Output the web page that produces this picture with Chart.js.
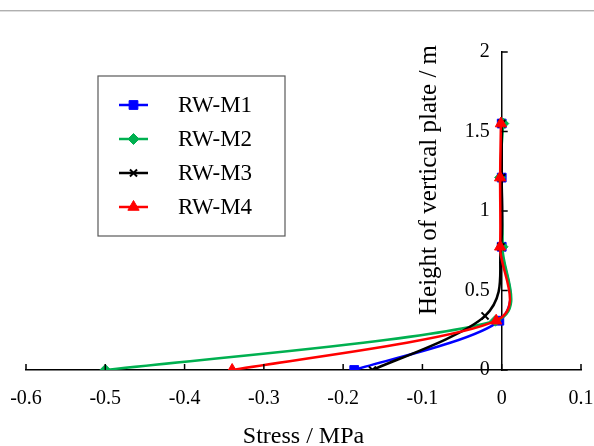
<!DOCTYPE html>
<html>
<head>
<meta charset="utf-8">
<script src="https://cdn.jsdelivr.net/npm/chart.js@4.4.1/dist/chart.umd.min.js"></script>
<style>
  html, body { margin: 0; padding: 0; background: #fff; }
  #wrap { position: relative; width: 594px; height: 446px; }
  #topline { position: absolute; left: 0; top: 10px; width: 594px; height: 1px; background: #b0b0b0; border-bottom: 1px solid #dedede; }
</style>
</head>
<body>
<div id="wrap">
  <div id="topline"></div>
  <canvas id="chart1"></canvas>
</div>
<script>
// heights of the measuring points along the plate (m)
var heights   = [0, 0.31, 0.775, 1.21, 1.55];
var heightsM3 = [0, 0.34, 0.775, 1.21, 1.55];

// stress at each point (MPa)
var stressM1 = [-0.186, -0.003,  0.000,  0.000,  0.000];
var stressM2 = [-0.500, -0.008,  0.001, -0.002,  0.002];
var stressM3 = [-0.163, -0.021, -0.001,  0.000,  0.000];
var stressM4 = [-0.340, -0.007, -0.002, -0.002, -0.001];

var seriesNames = ['RW-M1', 'RW-M2', 'RW-M3', 'RW-M4'];
var xTitle = 'Stress / MPa';
var yTitle = 'Height of vertical plate / m';

var serif = "'Liberation Serif', 'Times New Roman', serif";

function toPoints(xs, ys) {
    return xs.map(function(v, i) { return {x: v, y: ys[i]}; });
}

// Excel-like smoothing: Chart.js distance weighting, but no control
// point reaches further than 1/6 of the neighbour chord
var excelSmoothPlugin = {
    id: 'excelSmooth',
    beforeDatasetDraw: function(chart, args) {
        var meta = args.meta;
        var line = meta.dataset;
        if (!line) return;
        line.updateControlPoints(chart.chartArea, meta.iScale.axis);
        var t = line.options.tension;
        var pts = meta.data;
        var n = pts.length;
        for (var i = 0; i < n; i++) {
            var cur = pts[i];
            var prev = pts[Math.max(i - 1, 0)];
            var next = pts[Math.min(i + 1, n - 1)];
            var d01 = Math.hypot(cur.x - prev.x, cur.y - prev.y);
            var d12 = Math.hypot(next.x - cur.x, next.y - cur.y);
            var s = (d01 + d12) || 1;
            var fa = Math.min(t * d01 / s, 1 / 6);
            var fb = Math.min(t * d12 / s, 1 / 6);
            var dx = next.x - prev.x;
            var dy = next.y - prev.y;
            cur.cp1x = cur.x - fa * dx;
            cur.cp1y = cur.y - fa * dy;
            cur.cp2x = cur.x + fb * dx;
            cur.cp2y = cur.y + fb * dy;
        }
    }
};

// y axis labels + title and the inward tick marks (Excel style)
var axisExtrasPlugin = {
    id: 'axisExtras',
    afterDraw: function(chart, args, opts) {
        var ctx = chart.ctx;
        var xs = chart.scales.x, ys = chart.scales.y;
        var x0 = xs.getPixelForValue(0);
        var yb = ys.getPixelForValue(0);
        ctx.save();
        ctx.strokeStyle = '#000';
        ctx.lineWidth = 1.5;
        ctx.beginPath();
        xs.ticks.forEach(function(t) {
            var px = xs.getPixelForValue(t.value);
            ctx.moveTo(px, yb);
            ctx.lineTo(px, yb - opts.tickLength);
        });
        ys.ticks.forEach(function(t) {
            var py = ys.getPixelForValue(t.value);
            ctx.moveTo(x0, py);
            ctx.lineTo(x0 + opts.tickLength, py);
        });
        ctx.stroke();

        ctx.fillStyle = '#000';
        ctx.font = '20px ' + serif;
        ctx.textAlign = 'right';
        ctx.textBaseline = 'middle';
        ys.ticks.forEach(function(t) {
            ctx.fillText(String(t.value), x0 - opts.labelGap, ys.getPixelForValue(t.value));
        });

        ctx.font = '25px ' + serif;
        ctx.textAlign = 'center';
        ctx.translate(x0 - opts.titleGap, (chart.chartArea.top + chart.chartArea.bottom) / 2 - opts.titleShift);
        ctx.rotate(-Math.PI / 2);
        ctx.fillText(yTitle, 0, 0);
        ctx.restore();
    }
};

// framed legend inside the plot, like the excel one
var legendBoxPlugin = {
    id: 'legendBox',
    afterDraw: function(chart, args, o) {
        var ctx = chart.ctx;
        ctx.save();
        ctx.strokeStyle = '#595959';
        ctx.lineWidth = 1.2;
        ctx.strokeRect(o.left, o.top, o.width, o.height);
        chart.data.datasets.forEach(function(ds, i) {
            var y = o.top + o.firstRow + i * o.rowGap;
            var x1 = o.left + o.lineStart;
            ctx.strokeStyle = ds.borderColor;
            ctx.lineWidth = ds.borderWidth;
            ctx.beginPath();
            ctx.moveTo(x1, y);
            ctx.lineTo(x1 + o.lineLength, y);
            ctx.stroke();
            ctx.fillStyle = ds.pointBackgroundColor;
            ctx.strokeStyle = ds.pointBorderColor;
            ctx.lineWidth = ds.pointBorderWidth;
            Chart.helpers.drawPoint(ctx, {
                pointStyle: ds.pointStyle,
                radius: ds.pointRadius,
                borderWidth: ds.pointBorderWidth,
                rotation: 0
            }, x1 + o.lineLength / 2, y);
            ctx.fillStyle = '#000';
            ctx.font = '23px ' + serif;
            ctx.textAlign = 'left';
            ctx.textBaseline = 'middle';
            ctx.fillText(ds.label, o.left + o.textX, y + 1);
        });
        ctx.restore();
    }
};

var styles = [
    {c: '#0000FF', p: 'rect',     r: 6.2, bw: 1, order: 4},
    {c: '#00B050', p: 'rectRot',  r: 5.5, bw: 1, order: 3},
    {c: '#000000', p: 'crossRot', r: 5,   bw: 2, order: 2},
    {c: '#FF0000', p: 'triangle', r: 6.5, bw: 1, order: 1}
];
var seriesData = [
    toPoints(stressM1, heights),
    toPoints(stressM2, heights),
    toPoints(stressM3, heightsM3),
    toPoints(stressM4, heights)
];

var datasets = seriesData.map(function(d, i) {
    var s = styles[i];
    return {
        label: seriesNames[i],
        data: d,
        borderColor: s.c,
        backgroundColor: s.c,
        borderWidth: 2.5,
        pointStyle: s.p,
        pointRadius: s.r,
        pointBackgroundColor: s.c,
        pointBorderColor: s.c,
        pointBorderWidth: s.bw,
        tension: 0.5,
        fill: false,
        order: s.order
    };
});

Chart.defaults.font.family = serif;
Chart.defaults.color = '#000';

var ctx = document.getElementById('chart1').getContext('2d');
var chart = new Chart(ctx, {
    type: 'line',
    data: {datasets: datasets},
    options: {
        responsive: true,
        maintainAspectRatio: false,
        animation: false,
        layout: {
            padding: {left: 26, right: 13, top: 52, bottom: 0}
        },
        scales: {
            x: {
                type: 'linear',
                position: 'bottom',
                min: -0.6,
                max: 0.1,
                afterFit: function(scale) {
                    scale.height = 76;
                    scale.paddingLeft = 0;
                    scale.paddingRight = 0;
                },
                ticks: {
                    stepSize: 0.1,
                    autoSkip: false,
                    maxRotation: 0,
                    padding: 17,
                    font: {size: 20, family: serif},
                    color: '#000'
                },
                grid: {drawOnChartArea: false, drawTicks: false},
                border: {display: true, color: '#000', width: 1.5},
                title: {
                    display: true,
                    text: xTitle,
                    font: {size: 24, family: serif, lineHeight: 1},
                    color: '#000',
                    padding: {top: 0, bottom: -3}
                }
            },
            y: {
                type: 'linear',
                position: {x: 0},
                min: 0,
                max: 2,
                ticks: {stepSize: 0.5, display: false},
                grid: {drawOnChartArea: false, drawTicks: false},
                border: {display: true, color: '#000', width: 1.5},
                title: {display: false}
            }
        },
        plugins: {
            legend: {display: false},
            tooltip: {enabled: false},
            axisExtras: {tickLength: 6, labelGap: 12, titleGap: 72, titleShift: 31},
            legendBox: {
                left: 98, top: 76, width: 187, height: 160,
                firstRow: 29, rowGap: 34,
                lineStart: 21, lineLength: 29, textX: 80
            }
        }
    },
    plugins: [excelSmoothPlugin, axisExtrasPlugin, legendBoxPlugin]
});
</script>
</body>
</html>
